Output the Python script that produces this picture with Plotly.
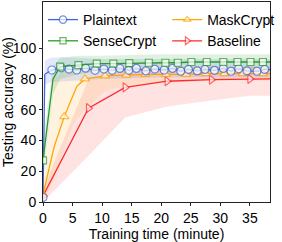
import plotly.graph_objects as go

# ---------------- data ----------------
plain_t = [0, 0.3, 1.5, 3.1, 4.4, 5.7, 7.2, 8.8, 10.3, 11.7, 13.0, 14.5, 15.8, 17.4, 18.9,
           20.5, 21.9, 23.3, 24.6, 26.1, 27.4, 29.0, 30.5, 31.8, 33.1, 34.5, 36.2, 37.5, 38.4]
plain_y = [3, 83, 85.8, 87.2, 86.4, 85.8, 87.0, 85.6, 86.4, 85.6, 86.8, 85.6, 86.8, 85.2, 86.4,
           85.8, 86.8, 85.0, 86.2, 85.2, 86.2, 85.6, 86.8, 85.0, 86.6, 85.2, 85.0, 86.2, 86.0]
plain_mark = [1, 0] + [1] * 26 + [0]

sense_t = [0, 1.7, 2.9, 6.0, 9.1, 11.9, 14.6, 17.9, 20.7, 22.8, 25.1, 27.7, 30.5, 32.9, 35.1, 37.2, 38.4]
sense_y = [27, 80, 88, 89, 90, 90, 90.3, 90.5, 90.5, 90.5, 91, 91, 91, 91, 91, 91, 91]
sense_mark = [1, 0] + [1] * 14 + [0]

mask_t = [0, 1.9, 3.6, 5.7, 7.1, 10.5, 14.1, 17.3, 20.8, 24.2, 27.5, 30.7, 33.8, 37.2, 38.4]
mask_y = [5, 36, 55.5, 75, 80, 82, 82.5, 83, 83, 83, 83.5, 83.5, 83.5, 83.5, 83.5]
mask_mark = [1, 0, 1, 0] + [1] * 10 + [0]

base_t = [0, 7.7, 13.9, 21.0, 28.5, 35.0, 38.4]
base_y = [4, 61, 74.5, 78.5, 79.5, 80, 80]
base_mark = [1, 1, 1, 1, 1, 1, 0]

# shaded spread (lower / upper bounds)
plain_band_t = [0, 0.3, 1.5, 5, 10, 20, 30, 38.4]
plain_band_lo = [0, 76, 78, 79, 80, 81, 81, 81]
plain_band_hi = [7, 92, 94, 94, 93, 93, 93, 93]

sense_band_t = [0, 1.7, 2.9, 6, 10, 20, 30, 38.4]
sense_band_lo = [15, 70, 80, 83, 85, 86, 86, 86]
sense_band_hi = [40, 88, 94, 95, 95, 96, 96, 96]

mask_band_t = [0, 1.9, 3.6, 5.2, 7.1, 10.5, 14.1, 20.8, 30.7, 38.4]
mask_band_lo = [0, 15, 35, 51, 60, 72, 76, 78, 79, 79]
mask_band_hi = [12, 80, 86, 88, 88, 88, 88, 88, 88, 88]

base_band_t = [0, 7.7, 13.9, 21.0, 28.5, 35.0, 38.4]
base_band_lo = [0, 30, 55, 62, 66, 69, 69]
base_band_hi = [8, 80, 86, 88, 88, 88, 88]

x_ticks = [0, 5, 10, 15, 20, 25, 30, 35]
y_ticks = [0, 20, 40, 60, 80, 100]

FONT = "Liberation Sans"
FS = 14
fig = go.Figure()

series = [
    ("Baseline", base_t, base_y, base_mark, base_band_t, base_band_lo, base_band_hi,
     "#ff2a2a", "rgba(255,60,60,0.14)", "triangle-right", 8, 2, "legend2"),
    ("MaskCrypt", mask_t, mask_y, mask_mark, mask_band_t, mask_band_lo, mask_band_hi,
     "#ffa500", "rgba(255,170,40,0.15)", "triangle-up", 8, 1, "legend2"),
    ("Plaintext", plain_t, plain_y, plain_mark, plain_band_t, plain_band_lo, plain_band_hi,
     "#3f66d9", "rgba(70,110,230,0.15)", "circle", 8, 1, "legend"),
    ("SenseCrypt", sense_t, sense_y, sense_mark, sense_band_t, sense_band_lo, sense_band_hi,
     "#2a9a2a", "rgba(50,160,50,0.15)", "square", 7, 2, "legend"),
]

# bands first
for s in series:
    name, t, y, mk, bt, blo, bhi, col, fcol, sym, ms, rank, leg = s
    fig.add_trace(go.Scatter(x=bt, y=bhi, mode="lines", line=dict(width=0),
                             showlegend=False, hoverinfo="skip"))
    fig.add_trace(go.Scatter(x=bt, y=blo, mode="lines", line=dict(width=0),
                             fill="tonexty", fillcolor=fcol, showlegend=False, hoverinfo="skip"))

for s in series:
    name, t, y, mk, bt, blo, bhi, col, fcol, sym, ms, rank, leg = s
    fig.add_trace(go.Scatter(
        x=t, y=y, mode="lines+markers", name=name, legendrank=rank, legend=leg,
        line=dict(color=col, width=1.3),
        marker=dict(symbol=sym, size=[ms if m else 0 for m in mk], color="white",
                    line=dict(color=col, width=1.2)),
    ))

axis_common = dict(showline=True, linecolor="#222", linewidth=1, mirror=True,
                   ticks="outside", ticklen=3, tickwidth=1, tickcolor="#222",
                   showgrid=False, zeroline=False, automargin=False,
                   tickfont=dict(family=FONT, size=FS, color="black"))

leg_common = dict(orientation="v", yanchor="top", xanchor="left", bgcolor="rgba(0,0,0,0)",
                  traceorder="normal", font=dict(family=FONT, size=FS), itemwidth=30)

fig.update_layout(
    width=282, height=242,
    margin=dict(l=43, r=3, t=2, b=40),
    paper_bgcolor="white", plot_bgcolor="white",
    font=dict(family=FONT, size=FS, color="black"),
    xaxis=dict(range=[0, 38.4], tickvals=x_ticks,
               title=dict(text="Training time (minute)", font=dict(family=FONT, size=FS), standoff=4),
               **axis_common),
    yaxis=dict(range=[0, 130], tickvals=y_ticks,
               title=dict(text="Testing accuracy (%)", font=dict(family=FONT, size=FS), standoff=0),
               **axis_common),
    legend=dict(x=0.0, y=0.99, **leg_common),
    legend2=dict(x=0.547, y=0.99, **leg_common),
    showlegend=True,
)

fig.write_html("out.html", config={"displayModeBar": False},
               post_script="document.body.style.margin='0';document.body.style.padding='0';")
